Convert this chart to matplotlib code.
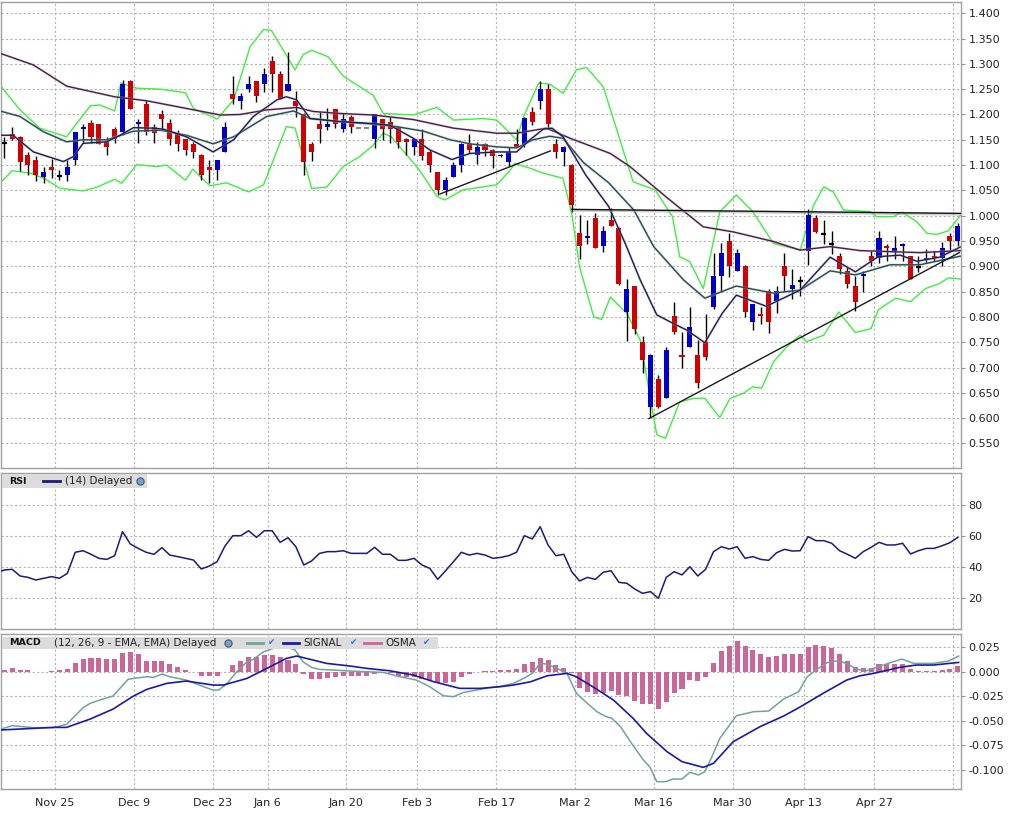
import matplotlib
matplotlib.use("Agg")
import matplotlib.pyplot as plt
from matplotlib.patches import Rectangle
from matplotlib.lines import Line2D
import matplotlib.patheffects as pe
import numpy as np

# ------------------------------------------------------------------ data
opens = [1.144, 1.161, 1.156, 1.120, 1.110, 1.077, 1.096, 1.079, 1.080, 1.110,
         1.171, 1.184, 1.181, 1.146, 1.171, 1.166, 1.266, 1.181, 1.221, 1.175,
         1.201, 1.184, 1.163, 1.151, 1.142, 1.120, 1.096, 1.090, 1.126, 1.240,
         1.227, 1.250, 1.266, 1.260, 1.306, 1.280, 1.247, 1.226, 1.201, 1.142,
         1.181, 1.175, 1.210, 1.171, 1.195, 1.174, 1.174, 1.152, 1.191, 1.185,
         1.175, 1.152, 1.136, 1.152, 1.126, 1.086, 1.051, 1.077, 1.101, 1.142,
         1.120, 1.142, 1.130, 1.117, 1.107, 1.142, 1.142, 1.205, 1.227, 1.250,
         1.142, 1.125, 1.101, 0.965, 0.956, 0.995, 0.941, 0.991, 0.976, 0.810,
         0.861, 0.750, 0.621, 0.678, 0.640, 0.801, 0.725, 0.741, 0.725, 0.750,
         0.820, 0.881, 0.950, 0.891, 0.901, 0.790, 0.806, 0.851, 0.831, 0.901,
         0.855, 0.870, 0.931, 0.995, 0.964, 0.945, 0.920, 0.891, 0.861, 0.881,
         0.920, 0.917, 0.940, 0.930, 0.941, 0.920, 0.899, 0.912, 0.920, 0.917,
         0.960, 0.950]
highs = [1.156, 1.176, 1.157, 1.126, 1.117, 1.097, 1.113, 1.090, 1.110, 1.166,
         1.181, 1.190, 1.182, 1.155, 1.176, 1.269, 1.269, 1.192, 1.229, 1.181,
         1.208, 1.191, 1.169, 1.152, 1.146, 1.121, 1.110, 1.111, 1.185, 1.276,
         1.242, 1.276, 1.267, 1.291, 1.316, 1.286, 1.323, 1.246, 1.202, 1.146,
         1.205, 1.212, 1.211, 1.202, 1.199, 1.174, 1.174, 1.201, 1.192, 1.196,
         1.176, 1.153, 1.153, 1.171, 1.130, 1.087, 1.077, 1.107, 1.143, 1.161,
         1.146, 1.143, 1.131, 1.121, 1.136, 1.171, 1.195, 1.215, 1.266, 1.260,
         1.152, 1.137, 1.102, 1.001, 0.991, 1.005, 0.980, 1.015, 0.977, 0.875,
         0.862, 0.762, 0.726, 0.685, 0.741, 0.829, 0.771, 0.820, 0.754, 0.806,
         0.927, 0.947, 0.965, 0.935, 0.902, 0.826, 0.820, 0.856, 0.861, 0.927,
         0.894, 0.881, 1.013, 1.001, 0.991, 0.970, 0.927, 0.899, 0.881, 0.891,
         0.930, 0.970, 0.945, 0.960, 0.946, 0.921, 0.920, 0.934, 0.930, 0.949,
         0.966, 0.986]
lows = [1.115, 1.150, 1.089, 1.080, 1.069, 1.065, 1.074, 1.070, 1.069, 1.101,
        1.144, 1.144, 1.141, 1.120, 1.143, 1.160, 1.210, 1.144, 1.159, 1.144,
        1.169, 1.140, 1.128, 1.119, 1.115, 1.070, 1.065, 1.070, 1.125, 1.221,
        1.210, 1.245, 1.225, 1.245, 1.245, 1.230, 1.246, 1.196, 1.080, 1.109,
        1.144, 1.169, 1.174, 1.166, 1.164, 1.174, 1.174, 1.134, 1.150, 1.144,
        1.134, 1.119, 1.119, 1.110, 1.086, 1.041, 1.041, 1.076, 1.086, 1.124,
        1.103, 1.117, 1.095, 1.116, 1.099, 1.136, 1.136, 1.180, 1.210, 1.171,
        1.115, 1.099, 1.008, 0.914, 0.944, 0.936, 0.929, 0.979, 0.864, 0.752,
        0.767, 0.690, 0.602, 0.620, 0.639, 0.766, 0.700, 0.740, 0.659, 0.715,
        0.815, 0.850, 0.879, 0.890, 0.800, 0.774, 0.785, 0.769, 0.807, 0.851,
        0.835, 0.841, 0.903, 0.966, 0.944, 0.924, 0.884, 0.858, 0.812, 0.850,
        0.901, 0.907, 0.910, 0.914, 0.910, 0.874, 0.889, 0.906, 0.910, 0.901,
        0.930, 0.941]
closes = [1.144, 1.151, 1.107, 1.100, 1.080, 1.086, 1.090, 1.079, 1.096, 1.165,
          1.175, 1.156, 1.142, 1.136, 1.152, 1.260, 1.211, 1.185, 1.166, 1.163,
          1.191, 1.152, 1.142, 1.130, 1.126, 1.080, 1.090, 1.110, 1.175, 1.231,
          1.236, 1.260, 1.236, 1.280, 1.280, 1.231, 1.260, 1.217, 1.107, 1.126,
          1.171, 1.181, 1.182, 1.191, 1.176, 1.174, 1.174, 1.200, 1.171, 1.171,
          1.146, 1.146, 1.152, 1.117, 1.101, 1.051, 1.070, 1.100, 1.142, 1.130,
          1.136, 1.130, 1.117, 1.120, 1.125, 1.136, 1.194, 1.185, 1.250, 1.181,
          1.126, 1.136, 1.022, 0.941, 0.960, 0.937, 0.970, 0.980, 0.865, 0.855,
          0.777, 0.715, 0.725, 0.621, 0.735, 0.771, 0.721, 0.780, 0.670, 0.721,
          0.881, 0.927, 0.901, 0.927, 0.810, 0.825, 0.801, 0.790, 0.851, 0.881,
          0.864, 0.870, 1.001, 0.967, 0.964, 0.945, 0.895, 0.865, 0.830, 0.884,
          0.910, 0.955, 0.936, 0.936, 0.945, 0.875, 0.899, 0.916, 0.916, 0.936,
          0.950, 0.980]
flat_days = [45, 46]

# moving averages / Bollinger bands (bar index, value)
ma_short_x = [-0.55, 1.1, 3.7, 7.5, 8.8, 10.0, 13.0, 14.7, 16.4, 18.9, 20.2, 23.1, 26.5,
              29.1, 31.6, 34.6, 35.8, 37.1, 38.8, 42.6, 46.8, 48.9, 51.9, 54.0, 56.8,
              59.1, 62.5, 65.0, 66.7, 68.4, 69.5, 70.9, 73.8, 76.7, 78.8, 80.7, 82.8,
              84.9, 86.6, 88.9, 91.1, 92.9, 96.7, 101.0, 104.8, 108.0, 110.9, 113.7,
              115.8, 118.7, 121.3]
ma_short_y = [1.159, 1.159, 1.126, 1.107, 1.117, 1.143, 1.146, 1.159, 1.174, 1.173, 1.171,
              1.156, 1.126, 1.150, 1.196, 1.229, 1.235, 1.229, 1.192, 1.186, 1.182, 1.179,
              1.153, 1.130, 1.111, 1.123, 1.126, 1.126, 1.150, 1.171, 1.173, 1.156, 1.080,
              1.018, 0.945, 0.873, 0.804, 0.787, 0.774, 0.749, 0.807, 0.843, 0.821, 0.853,
              0.918, 0.889, 0.919, 0.922, 0.910, 0.918, 0.938]
ma_mid_x = [-0.55, 2.0, 4.95, 7.9, 10.0, 13.0, 16.4, 19.8, 23.1, 26.5, 29.1, 33.3, 36.7,
            38.8, 42.6, 46.8, 49.8, 53.2, 56.6, 59.1, 62.5, 65.0, 67.1, 69.2, 70.9, 73.5,
            76.7, 79.9, 82.4, 86.2, 88.9, 92.9, 97.6, 101.0, 104.8, 108.0, 112.4, 116.2,
            121.3]
ma_mid_y = [1.207, 1.196, 1.166, 1.146, 1.150, 1.150, 1.167, 1.169, 1.159, 1.142, 1.156,
            1.196, 1.207, 1.192, 1.186, 1.181, 1.176, 1.167, 1.150, 1.142, 1.136, 1.134,
            1.150, 1.157, 1.153, 1.105, 1.065, 1.011, 0.939, 0.873, 0.837, 0.861, 0.847,
            0.853, 0.891, 0.883, 0.903, 0.903, 0.920]
ma_long_x = [-0.55, 3.68, 7.91, 14.0, 18.1, 23.1, 27.4, 29.9, 33.3, 37.1, 39.2, 42.6,
             46.8, 51.9, 57.0, 62.5, 65.0, 68.8, 71.8, 76.9, 79.4, 84.3, 88.7, 92.5, 97.6,
             101.0, 104.8, 108.6, 112.4, 116.2, 121.3]
ma_long_y = [1.321, 1.298, 1.256, 1.235, 1.227, 1.212, 1.199, 1.200, 1.209, 1.214, 1.206,
             1.202, 1.199, 1.190, 1.173, 1.163, 1.163, 1.173, 1.153, 1.123, 1.097, 1.033,
             0.978, 0.968, 0.949, 0.932, 0.939, 0.931, 0.929, 0.927, 0.931]
bb_up_x = [-0.55, 2.0, 4.5, 7.9, 10.9, 12.1, 14.0, 14.8, 16.8, 19.8, 23.0, 24.0, 27.0,
           29.1, 31.2, 32.9, 33.9, 36.9, 37.9, 39.0, 41.1, 43.0, 45.6, 46.8, 48.1, 51.9,
           54.9, 57.0, 60.8, 62.5, 65.0, 65.9, 67.8, 69.2, 70.9, 72.6, 73.9, 76.0, 79.8,
           82.6, 84.8, 85.7, 87.0, 88.7, 90.8, 92.9, 95.0, 97.6, 101.0, 102.7, 104.0,
           105.2, 106.5, 109.9, 110.7, 112.8, 113.9, 115.8, 117.1, 118.3, 119.8, 121.3]
bb_up_y = [1.258, 1.209, 1.173, 1.156, 1.217, 1.219, 1.207, 1.262, 1.252, 1.250, 1.243,
           1.212, 1.191, 1.229, 1.334, 1.368, 1.366, 1.288, 1.318, 1.327, 1.314, 1.276,
           1.250, 1.238, 1.202, 1.199, 1.214, 1.189, 1.192, 1.189, 1.150, 1.196, 1.262,
           1.260, 1.242, 1.288, 1.293, 1.255, 1.067, 1.051, 0.998, 0.919, 0.909, 0.856,
           1.008, 1.041, 1.008, 0.945, 0.932, 1.021, 1.057, 1.047, 1.011, 1.008, 0.998,
           0.998, 1.007, 0.988, 0.965, 0.963, 0.970, 1.000]
bb_lo_x = [-0.55, 1.0, 3.3, 5.0, 7.1, 10.0, 11.7, 14.0, 14.9, 16.8, 19.3, 20.6, 23.0,
           23.9, 26.1, 28.2, 31.0, 32.9, 35.8, 36.9, 39.0, 40.9, 43.0, 45.1, 46.6, 48.1,
           49.1, 52.7, 54.9, 55.9, 58.2, 62.5, 64.2, 64.8, 66.7, 68.4, 70.9, 72.0, 73.0,
           74.8, 75.8, 76.9, 79.0, 80.7, 82.8, 83.9, 85.7, 87.5, 88.9, 90.8, 92.1, 93.8,
           95.0, 96.1, 97.6, 99.3, 101.0, 101.8, 104.0, 105.9, 108.0, 110.0, 110.9,
           113.1, 115.0, 116.9, 118.7, 119.8, 121.3]
bb_lo_y = [1.064, 1.089, 1.084, 1.074, 1.054, 1.049, 1.056, 1.072, 1.064, 1.101, 1.097,
           1.100, 1.070, 1.092, 1.059, 1.065, 1.047, 1.061, 1.176, 1.173, 1.054, 1.056,
           1.097, 1.117, 1.136, 1.163, 1.156, 1.090, 1.038, 1.031, 1.051, 1.061, 1.090,
           1.103, 1.094, 1.084, 1.074, 1.005, 0.899, 0.800, 0.795, 0.839, 0.807, 0.754,
           0.567, 0.560, 0.632, 0.639, 0.639, 0.601, 0.639, 0.649, 0.662, 0.659, 0.711,
           0.741, 0.764, 0.751, 0.764, 0.810, 0.769, 0.777, 0.814, 0.837, 0.830, 0.856,
           0.866, 0.877, 0.875]

# drawn trend lines (bar index, price)
trend1_x, trend1_y = [55.3, 69.3], [1.043, 1.128]
trend2_x, trend2_y = [81.8, 121.2], [0.599, 0.927]
level_x, level_y = [72.0, 121.5], [1.0125, 1.0046]

rsi = [36.0,
       37.9, 38.3, 34.0, 33.1, 31.4, 32.5, 33.6, 32.5, 35.7, 49.3,
       50.3, 48.0, 45.4, 44.7, 47.1, 62.6, 54.6, 51.8, 49.3, 48.0,
       52.3, 47.5, 46.5, 45.4, 44.3, 38.5, 40.4, 43.2, 53.3, 60.0,
       60.0, 63.2, 58.9, 63.2, 63.2, 55.7, 58.7, 52.9, 41.1, 43.7,
       48.6, 49.7, 49.7, 50.3, 48.6, 48.6, 48.6, 52.5, 48.0, 48.0,
       44.1, 44.1, 45.4, 41.1, 38.9, 31.8, 37.4, 43.2, 49.3, 47.5,
       48.6, 47.5, 45.4, 46.0, 47.1, 49.3, 60.0, 57.9, 65.8, 54.0,
       47.1, 48.0, 36.8, 30.8, 33.1, 31.8, 36.4, 37.4, 29.9, 29.3,
       25.6, 22.8, 23.9, 19.6, 33.1, 36.8, 34.7, 40.0, 34.0, 38.3,
       49.7, 52.9, 51.4, 52.9, 45.4, 46.5, 44.7, 44.1, 49.0, 51.2,
       50.1, 50.3, 59.4, 56.8, 56.8, 55.1, 50.3, 48.0, 45.4, 49.7,
       52.5, 55.7, 54.0, 54.0, 55.1, 48.2, 50.3, 51.8, 51.8, 53.5, 55.5, 58.9]

macd_x = [-0.55, 1, 3.7, 6.2, 7.9, 10, 10.9, 12.1, 13.8, 15.7, 16.4, 18.1, 18.9, 20, 21,
          23.1, 25.3, 26.5, 27.2, 28.2, 29.5, 30.8, 31.6, 32.9, 34.1, 35.8, 36.9, 37.9,
          39, 40, 41.8, 43.9, 46, 48.1, 50.2, 52.3, 54, 55.7, 57, 58.2, 59.9, 61.6, 62.9,
          64.6, 65.9, 67, 68, 68.8, 69.9, 71.4, 72.6, 73.9, 75.2, 76.2, 77.1, 78.2, 79.6,
          81.1, 81.9, 82.8, 83.9, 84.9, 86, 87, 88.1, 88.9, 89.8, 90.8, 92.9, 94.2, 95.1,
          97, 98.9, 100.8, 101.9, 103.1, 104.4, 105.7, 106.9, 108.2, 109.4, 110.7, 112.4,
          113.9, 115.4, 117.9, 119.8, 121.1]
macd_y = [-0.0588, -0.0551, -0.0571, -0.0571, -0.0537, -0.0367, -0.0323, -0.0289, -0.0248,
          -0.0078, -0.0068, -0.0051, -0.0058, -0.0024, -0.0051, -0.0085, -0.0153, -0.0187,
          -0.0187, -0.0126, 0.0, 0.0102, 0.0126, 0.0204, 0.0238, 0.0255, 0.0221, 0.0102,
          0.0044, 0.0024, 0.0017, 0.0007, 0.0, -0.0007, -0.0051, -0.0085, -0.0153, -0.0245,
          -0.0255, -0.0214, -0.0187, -0.0163, -0.0150, -0.0119, -0.0068, -0.0017, 0.0085,
          0.0078, 0.0044, -0.0017, -0.0221, -0.0316, -0.0408, -0.0452, -0.0476, -0.0561,
          -0.0731, -0.0901, -0.0969, -0.1122, -0.1122, -0.1095, -0.1095, -0.1027, -0.1054,
          -0.1020, -0.0867, -0.0680, -0.0449, -0.0425, -0.0408, -0.0401, -0.0279, -0.0204,
          -0.0051, 0.0024, 0.0092, 0.0112, 0.0085, 0.0024, 0.0010, 0.0044, 0.0092, 0.0129,
          0.0085, 0.0085, 0.0109, 0.0160]
signal_x = [-0.55, 6.2, 7.9, 10.9, 13.8, 16.4, 18.1, 20.6, 23.1, 26.5, 27.8, 30.8, 33.3,
            35.8, 37.1, 39.2, 40.9, 43.9, 46, 48.9, 51.9, 54.5, 57.8, 60.4, 62.9, 64.6,
            66.8, 68.9, 71.4, 72.6, 75.2, 77.3, 79.8, 81.5, 84.1, 86, 88.7, 90, 92.5, 95.9,
            98.9, 100.9, 103.9, 106.9, 108.6, 110.3, 113.6, 115.7, 117.9, 121.1]
signal_y = [-0.0595, -0.0568, -0.0568, -0.0483, -0.0381, -0.0248, -0.0180, -0.0119, -0.0095,
            -0.0136, -0.0136, -0.0068, 0.0034, 0.0136, 0.0160, 0.0119, 0.0085, 0.0058,
            0.0034, 0.0010, -0.0034, -0.0102, -0.0170, -0.0170, -0.0153, -0.0136, -0.0102,
            -0.0041, -0.0017, -0.0051, -0.0180, -0.0289, -0.0476, -0.0629, -0.0816, -0.0918,
            -0.0976, -0.0935, -0.0714, -0.0561, -0.0452, -0.0364, -0.0221, -0.0085, -0.0041,
            -0.0017, 0.0044, 0.0068, 0.0068, 0.0095]
osma = [0.0017, 0.0037, 0.0017, 0.0017, 0.0, 0.0, 0.0007, 0.0017, 0.0027, 0.0092,
        0.0129, 0.0139, 0.0139, 0.0129, 0.0129, 0.0194, 0.0204, 0.0180, 0.0112, 0.0109,
        0.0109, 0.0078, 0.0048, 0.0014, 0.0, -0.0041, -0.0041, -0.0041, 0.0, 0.0068,
        0.0109, 0.0153, 0.0153, 0.0170, 0.0170, 0.0153, 0.0119, 0.0082, -0.0024, -0.0075,
        -0.0075, -0.0068, -0.0058, -0.0041, -0.0041, -0.0041, -0.0041, -0.0024, -0.0017, -0.0017,
        -0.0041, -0.0051, -0.0051, -0.0075, -0.0085, -0.0119, -0.0112, -0.0102, -0.0051, -0.0024,
        0.0, 0.0007, 0.0007, 0.0017, 0.0017, 0.0027, 0.0078, 0.0095, 0.0136, 0.0119,
        0.0068, 0.0034, -0.0017, -0.0163, -0.0204, -0.0231, -0.0221, -0.0197, -0.0238, -0.0245,
        -0.0296, -0.0333, -0.0333, -0.0381, -0.0306, -0.0214, -0.0177, -0.0085, -0.0095, -0.0051,
        0.0085, 0.0211, 0.0262, 0.0313, 0.0262, 0.0221, 0.0180, 0.0153, 0.0160, 0.0180,
        0.0180, 0.0180, 0.0255, 0.0272, 0.0262, 0.0245, 0.0180, 0.0109, 0.0051, 0.0034,
        0.0034, 0.0078, 0.0078, 0.0078, 0.0078, 0.0027, 0.0007, 0.0007, 0.0007, 0.0017,
        0.0027, 0.0058]

date_labels = ["Nov 25", "Dec 9", "Dec 23", "Jan 6", "Jan 20", "Feb 3", "Feb 17",
               "Mar 2", "Mar 16", "Mar 30", "Apr 13", "Apr 27", ""]
date_index = [6, 16, 26, 33, 43, 52, 62, 72, 82, 92, 101, 110, 120]
price_ticks = [0.55, 0.60, 0.65, 0.70, 0.75, 0.80, 0.85, 0.90, 0.95, 1.00, 1.05,
               1.10, 1.15, 1.20, 1.25, 1.30, 1.35, 1.40]
rsi_ticks = [20, 40, 60, 80]
macd_ticks = [-0.100, -0.075, -0.050, -0.025, 0.000, 0.025]

# ------------------------------------------------------------------ figure
W, H = 1012, 815
fig = plt.figure(figsize=(W / 100, H / 100), dpi=100)
fig.patch.set_facecolor("white")


def fx(x):
    return x / W


def fy(y):
    return 1 - y / H


def ax_px(left, top, right, bottom):
    return fig.add_axes([left / W, 1 - bottom / H, (right - left) / W, (bottom - top) / H])


ax1 = ax_px(1, 1.5, 961.5, 468)
ax2 = ax_px(1, 473.3, 961.5, 629.3)
ax3 = ax_px(1, 634.3, 961.5, 789.3)

XMIN, XMAX = -0.42, 121.47
grid_pos = [i + 0.42 for i in date_index]
GRID_KW = dict(color="#b4b4b4", linestyle=(0, (2, 2)), linewidth=0.8)

for ax in (ax1, ax2, ax3):
    ax.set_xlim(XMIN, XMAX)
    ax.set_facecolor("white")
    for s in ax.spines.values():
        s.set_color("#a0a0a0")
        s.set_linewidth(1.0)
    ax.yaxis.tick_right()
    ax.tick_params(axis="y", which="both", length=3, width=0.8, color="#909090",
                   labelsize=8, labelcolor="#222222", pad=2)
    ax.set_xticks(grid_pos)
    ax.tick_params(axis="x", length=0, labelsize=8, labelcolor="#222222", pad=6)
    ax.grid(True, **GRID_KW)
    ax.set_axisbelow(True)
ax1.set_xticklabels([])
ax2.set_xticklabels([])
ax3.set_xticklabels(date_labels)

# ---------------- price panel
ax1.set_ylim(0.5014, 1.4233)
ax1.set_yticks(price_ticks)
ax1.set_yticklabels([f"{v:.3f}" for v in price_ticks])

idx = np.arange(len(opens))
o = np.array(opens); c = np.array(closes); h = np.array(highs); l = np.array(lows)
BW = 0.64
for i in idx:
    if i in flat_days:
        ax1.hlines(o[i], i - BW / 2, i + BW / 2, color="#8a8a8a", linewidth=1.6, zorder=4)
        continue
    ax1.vlines(i, l[i], h[i], color="black", linewidth=1.0, zorder=3)
    if c[i] > o[i]:
        ax1.bar(i, c[i] - o[i], bottom=o[i], width=BW, color="#0000cc", linewidth=0, zorder=4)
    elif c[i] < o[i]:
        ax1.bar(i, o[i] - c[i], bottom=c[i], width=BW, color="#d40000", linewidth=0, zorder=4)
    else:
        ax1.hlines(o[i], i - BW / 2, i + BW / 2, color="black", linewidth=1.6, zorder=4)

halo = lambda col: [pe.Stroke(linewidth=2.0, foreground=col, alpha=0.4), pe.Normal()]
ax1.plot(bb_up_x, bb_up_y, color="#3df03d", linewidth=1.0, zorder=2)
ax1.plot(bb_lo_x, bb_lo_y, color="#3df03d", linewidth=1.0, zorder=2)
ax1.plot(ma_long_x, ma_long_y, color="#4a1e44", linewidth=1.0, zorder=5,
         path_effects=halo("#c0b0c0"))
ax1.plot(ma_mid_x, ma_mid_y, color="#244c50", linewidth=1.0, zorder=5,
         path_effects=halo("#a8bcc4"))
ax1.plot(ma_short_x, ma_short_y, color="#1e1e4e", linewidth=1.0, zorder=5,
         path_effects=halo("#aab0c8"))
ax1.plot(trend1_x, trend1_y, color="#1a1a1a", linewidth=1.0, zorder=6)
ax1.plot(trend2_x, trend2_y, color="#1a1a1a", linewidth=1.0, zorder=6)
ax1.plot(level_x, [v - 0.002 for v in level_y], color="#9a9a9a", linewidth=1.8, alpha=0.5, zorder=5)
ax1.plot(level_x, level_y, color="#111111", linewidth=1.0, zorder=6)

# ---------------- RSI panel
ax2.set_ylim(-0.4, 100.26)
ax2.set_yticks(rsi_ticks)
ax2.set_yticklabels([str(v) for v in rsi_ticks])
ax2.plot(np.arange(-1, -1 + len(rsi)), rsi, color="#1c1c78", linewidth=1.1, zorder=3)

# ---------------- MACD panel
ax3.set_ylim(-0.120, 0.0382)
ax3.set_yticks(macd_ticks)
ax3.set_yticklabels([f"{v:.3f}" for v in macd_ticks])
osma_arr = np.array(osma)
nz = osma_arr != 0
ax3.bar(np.arange(len(osma))[nz], osma_arr[nz], width=0.64, color="#cc6699", linewidth=0, zorder=2)
ax3.plot(macd_x, macd_y, color="#6fa39c", linewidth=1.1, zorder=3)
ax3.plot(signal_x, signal_y, color="#1a1aa6", linewidth=1.2, zorder=4)

# ---------------- legends (figure pixel coordinates)
def add_line(x0, x1, y, col, lw=2.0):
    fig.add_artist(Line2D([fx(x0), fx(x1)], [fy(y), fy(y)], color=col, linewidth=lw,
                          transform=fig.transFigure))


def add_icon(x, y):
    fig.add_artist(Line2D([fx(x)], [fy(y)], marker="o", markersize=5.2,
                          markerfacecolor="#7f9fc0", markeredgecolor="#3d5a80",
                          markeredgewidth=0.8, linestyle="none", transform=fig.transFigure))


def add_check(x, y):
    fig.text(fx(x), fy(y), "\u2714", color="#2a6fd8", fontsize=6.3, ha="center", va="center")


fig.add_artist(Rectangle((fx(2), fy(488)), fx(146.7) - fx(2), fy(474) - fy(488),
                         facecolor="#dcdcdc", edgecolor="none", transform=fig.transFigure))
fig.text(fx(9.3), fy(481), "RSI", fontsize=6.8, fontweight="bold", color="#111111", va="center")
add_line(43.3, 60, 481, "#1c1c78")
fig.text(fx(65), fy(481), "(14) Delayed", fontsize=7.5, color="#222222", va="center")
add_icon(139.5, 481)

fig.add_artist(Rectangle((fx(2), fy(648.5)), fx(438) - fx(2), fy(636.5) - fy(648.5),
                         facecolor="#dcdcdc", edgecolor="none", transform=fig.transFigure))
fig.text(fx(9.3), fy(642.5), "MACD", fontsize=6.8, fontweight="bold", color="#111111", va="center")
fig.text(fx(54.3), fy(642.5), "(12, 26, 9 - EMA, EMA) Delayed", fontsize=7.5, color="#222222",
         va="center")
add_icon(227.7, 642.5)
add_line(246.7, 263.3, 642.5, "#6fa39c")
add_check(271.7, 642.8)
add_line(282.7, 299.3, 642.5, "#1a1aa6")
fig.text(fx(303.3), fy(642.5), "SIGNAL", fontsize=7.5, color="#222222", va="center")
add_check(354, 642.8)
add_line(364, 380.7, 642.5, "#cc6699")
fig.text(fx(385.7), fy(642.5), "OSMA", fontsize=7.5, color="#222222", va="center")
add_check(426.7, 642.8)

fig.savefig("out.png", dpi=100, facecolor="white")
